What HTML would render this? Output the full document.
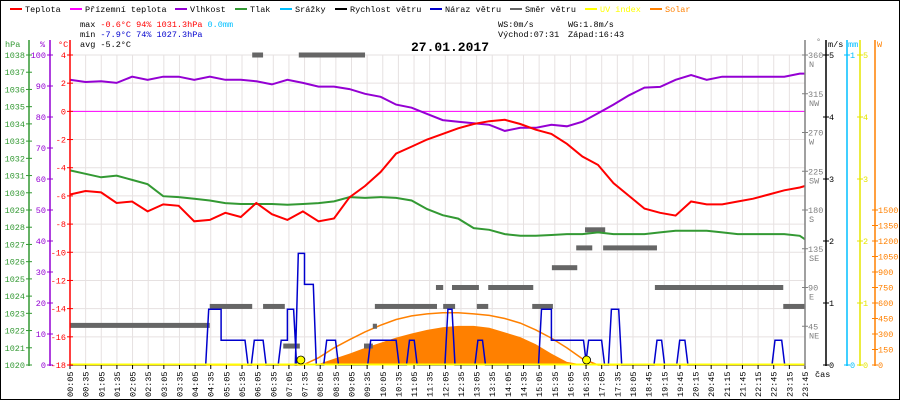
<!DOCTYPE html>
<html><head><meta charset="utf-8"><style>
html,body{margin:0;padding:0;background:#fff}
svg{display:block}
text{font-family:"Liberation Mono",monospace;font-size:8.5px}
</style></head><body>
<svg id="c" width="900" height="400" xmlns="http://www.w3.org/2000/svg">
<rect x="0.5" y="0.5" width="899" height="399" fill="#fff" stroke="#000"/>
<g>
<rect x="10" y="8" width="12" height="2" fill="#f00"/><text x="25" y="12">Teplota</text>
<rect x="70" y="8" width="12" height="2" fill="#f0f"/><text x="85" y="12">Přízemní teplota</text>
<rect x="175" y="8" width="12" height="2" fill="#9400d3"/><text x="190" y="12">Vlhkost</text>
<rect x="235" y="8" width="12" height="2" fill="#339933"/><text x="250" y="12">Tlak</text>
<rect x="280" y="8" width="12" height="2" fill="#00bfff"/><text x="295" y="12">Srážky</text>
<rect x="335" y="8" width="12" height="2" fill="#000"/><text x="350" y="12">Rychlost větru</text>
<rect x="430" y="8" width="12" height="2" fill="#0000cd"/><text x="445" y="12">Náraz větru</text>
<rect x="510" y="8" width="12" height="2" fill="#666"/><text x="525" y="12">Směr větru</text>
<rect x="585" y="8" width="12" height="2" fill="#ffff00"/><text x="600" y="12" fill="#ffff00">UV index</text>
<rect x="650" y="8" width="12" height="2" fill="#ff8000"/><text x="665" y="12" fill="#ff8000">Solar</text>
</g>
<g>
<text x="80" y="27">max <tspan fill="#f00">-0.6°C  94%  1031.3hPa</tspan>   <tspan fill="#00bfff">0.0mm</tspan></text>
<text x="80" y="37">min <tspan fill="#0000cd">-7.9°C  74%  1027.3hPa</tspan></text>
<text x="80" y="47">avg -5.2°C</text>
<text x="498" y="27">WS:0m/s</text><text x="568" y="27">WG:1.8m/s</text>
<text x="498" y="37">Východ:07:31</text><text x="568" y="37">Západ:16:43</text>
</g>
<text x="450" y="51" text-anchor="middle" style="font-size:13px;font-weight:bold">27.01.2017</text>
<g id="grid"></g>
<g id="plot"></g>
<g id="axes"></g>
</svg>
<script>
const xLabels=["00:05","00:35","01:05","01:35","02:05","02:35","03:05","03:35","04:05","04:35","05:05","05:35","06:05","06:35","07:05","07:35","08:05","08:35","09:05","09:35","10:05","10:35","11:05","11:35","12:05","12:35","13:05","13:35","14:05","14:35","15:05","15:35","16:05","16:35","17:05","17:35","18:05","18:45","19:15","19:45","20:15","20:45","21:15","21:45","22:15","22:45","23:15","23:45"];
const tempVals=[-5.9,-5.65,-5.75,-6.5,-6.4,-7.1,-6.6,-6.7,-7.8,-7.7,-7.2,-7.5,-6.5,-7.3,-7.7,-7.1,-7.8,-7.6,-6.1,-5.3,-4.3,-3.0,-2.5,-2.0,-1.6,-1.2,-0.9,-0.7,-0.6,-0.9,-1.3,-1.6,-2.3,-3.2,-3.8,-5.1,-6.0,-6.9,-7.2,-7.4,-6.4,-6.6,-6.6,-6.4,-6.2,-5.9,-5.6,-5.4,-5.3];
const humVals=[92,91.3,91.5,91,93,92,93,93,92,93,92,92,91.5,90.5,92,91,89.8,89.8,89,87.5,86.5,84,83,81,79,78.5,78,77.5,75.5,76.5,76.5,77.5,77,78.5,81.2,84,87,89.5,89.7,92,93.5,92,93,93,93,93,93,94,94];
const presVals=[1031.3,1031.1,1030.9,1031.0,1030.75,1030.5,1029.8,1029.75,1029.65,1029.55,1029.4,1029.35,1029.35,1029.35,1029.3,1029.35,1029.4,1029.5,1029.75,1029.7,1029.75,1029.7,1029.55,1029.05,1028.7,1028.5,1027.95,1027.85,1027.6,1027.5,1027.5,1027.55,1027.6,1027.6,1027.7,1027.6,1027.6,1027.6,1027.7,1027.8,1027.8,1027.8,1027.7,1027.6,1027.6,1027.6,1027.6,1027.5,1027.3];
const solarVals=[0,0,0,0,0,0,0,0,0,0,0,0,0,0,0,0,10,60,110,165,215,265,305,340,365,378,378,360,315,270,200,110,30,5,0,0,0,0,0,0,0,0,0,0,0,0,0,0,0];
const solarMaxVals=[0,0,0,0,0,0,0,0,0,0,0,0,0,0,0,0,70,165,245,320,385,440,475,495,505,505,495,480,450,405,340,260,165,60,0,0,0,0,0,0,0,0,0,0,0,0,0,0,0];
const gustStart=[273,297,361,413,425,446,458,501,586,661,735,793,916,935,1007,1051,1139,1183,1367];
const gustEnd=[297,343,378,425,437,458,475,518,635,670,743,802,935,997,1032,1065,1148,1193,1380];
const gustVals=[0.9,0.4,0.4,0.4,0.9,1.8,1.3,0.4,0.4,0.4,0.9,0.4,0.9,0.4,0.4,0.9,0.4,0.4,0.4];
const dirStart=[5,275,357,378,417,447,573,590,594,712,726,743,791,813,898,936,983,1000,1035,1135,1383];
const dirEnd=[275,357,378,420,449,575,590,598,714,726,749,795,813,900,938,985,1014,1039,1139,1383,1425];
const dirVals=[46,68,360,68,22,360,22,45,68,90,68,90,68,90,68,113,136,157,136,90,68];
const sunTimes=[451,1003];
const hpaTicks=[1020,1021,1022,1023,1024,1025,1026,1027,1028,1029,1030,1031,1032,1033,1034,1035,1036,1037,1038];
const humTicks=[0,10,20,30,40,50,60,70,80,90,100];
const tempTicks=[4,2,0,-2,-4,-6,-8,-10,-12,-14,-16,-18];
const dirTicks=[45,90,135,180,225,270,315,360];
const dirNames=["NE","E","SE","S","SW","W","NW","N"];
const windTicks=[0,1,2,3,4,5];
const uvTicks=[0,1,2,3,4,5];
const solarTicks=[0,150,300,450,600,750,900,1050,1200,1350,1500];

const NS="http://www.w3.org/2000/svg";
function tMin(k){return k<48?5+30*k:1425;}
const xS=m=>70+(m-5)*735/1420;
const xL=i=>70+i*735/(xLabels.length-1);
const yT=t=>55+(4-t)*310/22;
const yH=h=>365-h*3.1;
const yP=p=>365-(p-1020)*310/18;
const yW=w=>365-w*62;
const yD=d=>365-d*310/360;
const yS=s=>365-s*155/1500;
const yU=u=>365-u*62;
function el(tag,attrs,parent){const e=document.createElementNS(NS,tag);for(const k in attrs)e.setAttribute(k,attrs[k]);parent.appendChild(e);return e;}
const grid=document.getElementById('grid'),plot=document.getElementById('plot'),axes=document.getElementById('axes');

xLabels.forEach((s,k)=>{const x=xL(k);
 const g=el('line',{x1:x,y1:55,x2:x,y2:365,stroke:'#e6e1e1','stroke-width':1},grid);
 
 
 const tk=el('line',{x1:x,y1:365,x2:x,y2:369,stroke:'#000'},axes);
 
 
 const t=el('text',{x:0,y:0,transform:`translate(${x+3},397) rotate(-90)`},axes);
 t.textContent=s;
 
 
});
tempTicks.forEach(v=>{const y=yT(v);
 const g=el('line',{x1:70,y1:y,x2:805,y2:y,stroke:'#e6e1e1'},grid);
 
 
});

function areaPath(vals,fn){let d='';for(let k=0;k<49;k++){d+=(k?'L':'M')+xS(tMin(k)).toFixed(1)+','+fn(vals[k]).toFixed(1);}return d;}
const sa=el('path',{d:areaPath(solarVals,yS)+'L805,365L70,365Z',fill:'#ff8000',stroke:'none'},plot);


const sm=el('path',{d:areaPath(solarMaxVals,yS),fill:'none',stroke:'#ff8000','stroke-width':1.5},plot);


const zl=el('line',{x1:70,y1:yT(0),x2:805,y2:yT(0),stroke:'#f0f','stroke-width':1},plot);


for(let i=0;i<dirVals.length;i++){
 const r=el('rect',{x:xS(dirStart[i]),y:yD(dirVals[i])-2.5,width:xS(dirEnd[i])-xS(dirStart[i]),height:5,fill:'#666'},plot);
 
 
}
let gd='M70,365';
for(let i=0;i<gustVals.length;i++){
 const s=xS(gustStart[i]),e=xS(gustEnd[i]),y=yW(gustVals[i]);
 const adj=i>0&&gustEnd[i-1]===gustStart[i];
 if(!adj)gd+='L'+(s-3).toFixed(1)+',365';
 gd+='L'+s.toFixed(1)+','+y.toFixed(1)+'L'+e.toFixed(1)+','+y.toFixed(1);
 const nadj=i<gustVals.length-1&&gustStart[i+1]===gustEnd[i];
 if(!nadj)gd+='L'+(e+3).toFixed(1)+',365';
}
gd+='L805,365';
const gp=el('path',{d:gd,fill:'none',stroke:'#0000cd','stroke-width':1.5},plot);


const pl=el('path',{d:areaPath(presVals,yP),fill:'none',stroke:'#339933','stroke-width':2},plot);


const hl=el('path',{d:areaPath(humVals,yH),fill:'none',stroke:'#9400d3','stroke-width':2},plot);


const tl=el('path',{d:areaPath(tempVals,yT),fill:'none',stroke:'#f00','stroke-width':2},plot);


const ul=el('line',{x1:70,y1:364.5,x2:805,y2:364.5,stroke:'#ffff00','stroke-width':2},plot);


sunTimes.forEach(m=>{const c=el('circle',{cx:xS(m),cy:360,r:4,fill:'#ffff00',stroke:'#000','stroke-width':0.8},plot);
 
 });

function axis(x,color,ticks,fn,fmt,side,name){
 const l=el('line',{x1:x,y1:40,x2:x,y2:366,stroke:color,'stroke-width':1.5},axes);
 
 
 ticks.forEach((v,i)=>{const y=fn(v);
  el('line',{x1:x-3,y1:y,x2:x+3,y2:y,stroke:color},axes);
  const t=el('text',{x:side<0?x-4:x+3,y:y+3,fill:color,'text-anchor':side<0?'end':'start'},axes);
  t.textContent=fmt(v,i);
  
  });
}
axis(29,'#339933',hpaTicks,yP,v=>v,-1,'pressure-axis');
axis(50,'#9400d3',humTicks,yH,v=>v,-1,'humidity-axis');
axis(70,'#f00',tempTicks,yT,v=>v,-1,'temperature-axis');
axis(805,'#808080',dirTicks,yD,v=>v,1,'direction-axis');
dirTicks.forEach((v,i)=>{const t=el('text',{x:809,y:yD(v)+12,fill:'#808080'},axes);t.textContent=dirNames[i];
 
 });
axis(826,'#000',windTicks,yW,v=>v,1,'wind-speed-axis');
axis(847,'#00bfff',[0,1],v=>365-v*310,v=>v,1,'rain-axis');
axis(860,'#e6e600',uvTicks,yU,v=>v,1,'uv-axis');
axis(875,'#ff8000',solarTicks,yS,v=>v,1,'solar-axis');
[['hPa',5,47,'#339933'],['%',40,47,'#9400d3'],['°C',58,47,'#f00'],['°',816,44,'#808080'],['m/s',828,47,'#000'],['mm',848,47,'#00bfff'],['W',877,47,'#ff8000'],['čas',815,377,'#000']].forEach(a=>{
 const t=el('text',{x:a[1],y:a[2],fill:a[3]},axes);t.textContent=a[0];
 
 });
</script>
</body></html>
